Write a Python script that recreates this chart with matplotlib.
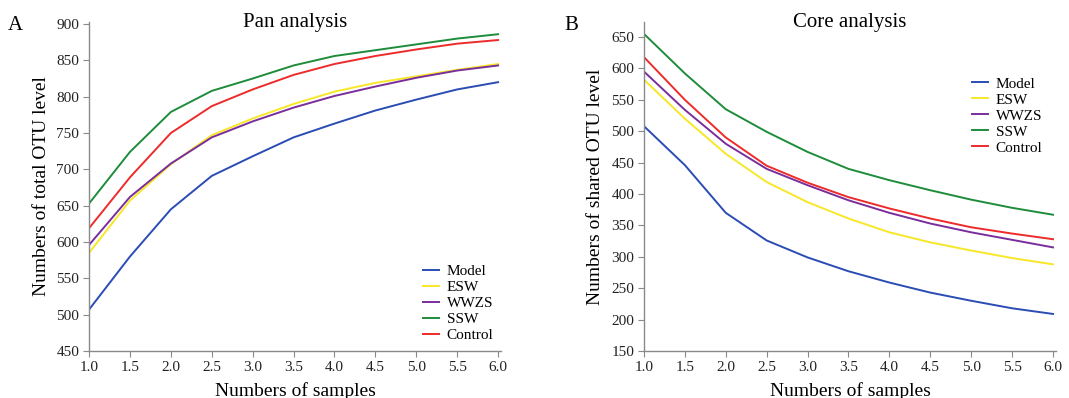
import numpy as np
import matplotlib
matplotlib.use("Agg")
import matplotlib.pyplot as plt

plt.rcParams['font.family'] = ['Liberation Serif', 'DejaVu Serif']

samples = [1.0, 1.5, 2.0, 2.5, 3.0, 3.5, 4.0, 4.5, 5.0, 5.5, 6.0]
groups = ['Model', 'ESW', 'WWZS', 'SSW', 'Control']
colors = ['#2a4cb4', '#f7e728', '#7a2e9c', '#1e8c3a', '#ee2b2b']

# pan analysis (total OTU)
pan_model = [507, 580, 645, 691, 718, 744, 763, 781, 796, 810, 820]
pan_esw = [585, 657, 707, 747, 770, 790, 807, 819, 828, 837, 845]
pan_wwzs = [596, 662, 708, 744, 766, 785, 801, 814, 826, 836, 843]
pan_ssw = [653, 724, 779, 808, 825, 843, 856, 864, 872, 880, 886]
pan_control = [619, 689, 750, 787, 810, 830, 845, 856, 865, 873, 878]

# core analysis (shared OTU)
core_model = [508, 446, 370, 326, 299, 277, 259, 243, 230, 218, 209]
core_esw = [582, 520, 464, 419, 387, 361, 339, 323, 310, 298, 288]
core_wwzs = [595, 534, 480, 440, 414, 390, 370, 353, 339, 327, 315]
core_ssw = [655, 592, 535, 499, 467, 440, 422, 406, 391, 378, 367]
core_control = [618, 550, 490, 445, 418, 395, 377, 361, 347, 337, 328]

pan = [pan_model, pan_esw, pan_wwzs, pan_ssw, pan_control]
core = [core_model, core_esw, core_wwzs, core_ssw, core_control]

fig = plt.figure(figsize=(10.69, 3.98), dpi=100)
ax1 = fig.add_axes([0.0833, 0.1181, 0.3854, 0.8266])
ax2 = fig.add_axes([0.6024, 0.1181, 0.3854, 0.8266])


def style(ax):
    for s in ['top', 'right']:
        ax.spines[s].set_visible(False)
    for s in ['left', 'bottom']:
        ax.spines[s].set_color('#8a8a8a')
        ax.spines[s].set_linewidth(1.0)
    ax.tick_params(direction='out', length=4, color='#8a8a8a', labelsize=11, labelcolor='#222222', pad=3)
    ax.set_xlim(1.0, 6.036)
    ax.set_xticks(np.arange(1.0, 6.01, 0.5))
    ax.set_xticklabels(['%.1f' % v for v in np.arange(1.0, 6.01, 0.5)])
    ax.set_xlabel('Numbers of samples', fontsize=14, labelpad=6)


for vals, c, g in zip(pan, colors, groups):
    ax1.plot(samples, vals, color=c, lw=1.4, label=g)
style(ax1)
ax1.set_ylim(450, 902.8)
ax1.set_yticks(range(450, 901, 50))
ax1.set_ylabel('Numbers of total OTU level', fontsize=14, labelpad=5)
ax1.text(0.5, 1.0, 'Pan analysis', transform=ax1.transAxes, ha='center', va='center', fontsize=15)
ax1.legend(loc='upper left', bbox_to_anchor=(0.811, 0.262), frameon=False, fontsize=11,
           handlelength=1.05, handletextpad=0.5, labelspacing=0.15, borderaxespad=0, borderpad=0)

for vals, c, g in zip(core, colors, groups):
    ax2.plot(samples, vals, color=c, lw=1.4, label=g)
style(ax2)
ax2.set_ylim(150, 673.9)
ax2.set_yticks(range(150, 651, 50))
ax2.set_ylabel('Numbers of shared OTU level', fontsize=14, labelpad=5)
ax2.text(0.5, 1.0, 'Core analysis', transform=ax2.transAxes, ha='center', va='center', fontsize=15)
ax2.legend(loc='upper left', bbox_to_anchor=(0.796, 0.833), frameon=False, fontsize=11,
           handlelength=1.05, handletextpad=0.5, labelspacing=0.15, borderaxespad=0, borderpad=0)

fig.text(0.0075, 0.937, 'A', fontsize=15, va='center')
fig.text(0.5275, 0.937, 'B', fontsize=15, va='center')

fig.savefig('out.png', dpi=100)
